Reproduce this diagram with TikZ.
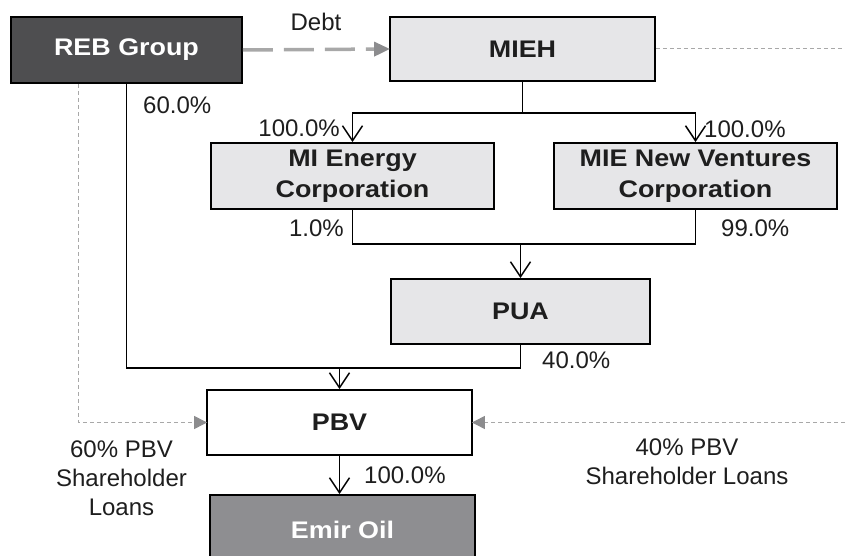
\documentclass[tikz,border=0pt]{standalone}
\usepackage{fontspec}
\setmainfont{Liberation Sans}[BoldFeatures={FakeStretch=1.12}]
\usetikzlibrary{positioning}
\usetikzlibrary{arrows.meta}

\definecolor{rebgray}{HTML}{4E4E50}
\definecolor{boxgray}{HTML}{E6E6E8}
\definecolor{emirgray}{HTML}{8E8E91}
\definecolor{loangray}{HTML}{A8A8A8}
\definecolor{tipgray}{HTML}{8C8C8E}
\definecolor{inkgray}{HTML}{1E1E1E}

\begin{document}
\begin{tikzpicture}[x=1pt,y=1pt,
 box/.style={draw=black,line width=1.8pt,fill=boxgray,text=inkgray,minimum width=265pt,minimum height=65pt,inner sep=0pt,align=center,font=\fontsize{24}{31}\selectfont\bfseries},
 own/.style={line width=1.5pt,-{Straight Barb[length=15pt,width=20pt,line width=1.5pt]}},
 loan/.style={loangray,line width=1pt,dash pattern=on 4pt off 3pt,-{Triangle[length=13pt,width=13pt,color=tipgray,sep=-1pt]}},
 pct/.style={font=\fontsize{24}{29}\selectfont,inner sep=0pt,text=inkgray}]
 \clip (0,0) rectangle (845,556);
 % entities
 \node[box,fill=rebgray,text=white,minimum width=231pt,minimum height=66pt] (reb) at (126.5,506) {REB Group};
 \node[box,minimum height=64pt] (mieh) at (522.5,507) {MIEH};
 \node[box,minimum width=283pt,minimum height=66pt] (mie) at (352.5,380) {MI Energy\\Corporation};
 \node[box,minimum width=283pt,minimum height=66pt] (minv) at (695.5,380) {MIE New Ventures\\Corporation};
 \node[box,minimum width=259pt] (pua) at (520.5,244.5) {PUA};
 \node[box,fill=white] (pbv) at (339.5,133.5) {PBV};
 \node[box,fill=emirgray,text=white,minimum height=70pt] (emir) at (342.5,26) {Emir Oil};
 % junctions and edge points
 \coordinate (split) at (mieh.south |- 0,443);
 \coordinate (join) at (pua.north |- 0,312);
 \coordinate (merge) at (pbv.north |- 0,188);
 \coordinate (miehend) at (845,507);
 \coordinate (pbvend) at (845,133.5);
 % ownership
 \draw[line width=1.5pt] (mieh.south) -- (split);
 \draw[own] (split) -| (mie.north);
 \draw[own] (split) -| (minv.north);
 \draw[line width=1.5pt] (mie.south) |- (join) -| (minv.south);
 \draw[own] (join) -- (pua.north);
 \draw[line width=1.5pt] (reb.south) |- (merge);
 \draw[line width=1.5pt] (pua.south) |- (merge);
 \draw[own] (merge) -- (pbv.north);
 \draw[own] (pbv.south) -- (pbv.south |- emir.north);
 % debt and loans
 \draw[loangray,line width=3.5pt,dash pattern=on 30pt off 11pt,-{Triangle[length=16pt,width=14pt,color=tipgray,sep=-1pt]}] (reb.east) -- (mieh.west)
  node[pct,midway,above=17pt] (debt) {Debt};
 \draw[loangray,line width=1pt,dash pattern=on 4pt off 3pt] (mieh.east) -- (miehend);
 \draw[loan] ([xshift=-48pt]reb.south) |- (pbv.west);
 \draw[loan] (pbvend) -- (pbv.east);
 % percentages
 \node[pct,anchor=west] (p60) at (143,451) {60.0\%};
 \node[pct,anchor=east] (p100a) at (340,428) {100.0\%};
 \node[pct,anchor=west] (p100b) at (704,427) {100.0\%};
 \node[pct,anchor=east] (p1) at (344,328) {1.0\%};
 \node[pct,anchor=west] (p99) at (721,328) {99.0\%};
 \node[pct,anchor=west] (p40) at (542,196) {40.0\%};
 \node[pct,anchor=west] (p100c) at (364,81) {100.0\%};
 \node[pct,align=center] (l60) at (121.5,78) {60\% PBV\\Shareholder\\Loans};
 \node[pct,align=center] (l40) at (687,94) {40\% PBV\\Shareholder Loans};
\end{tikzpicture}
\end{document}
